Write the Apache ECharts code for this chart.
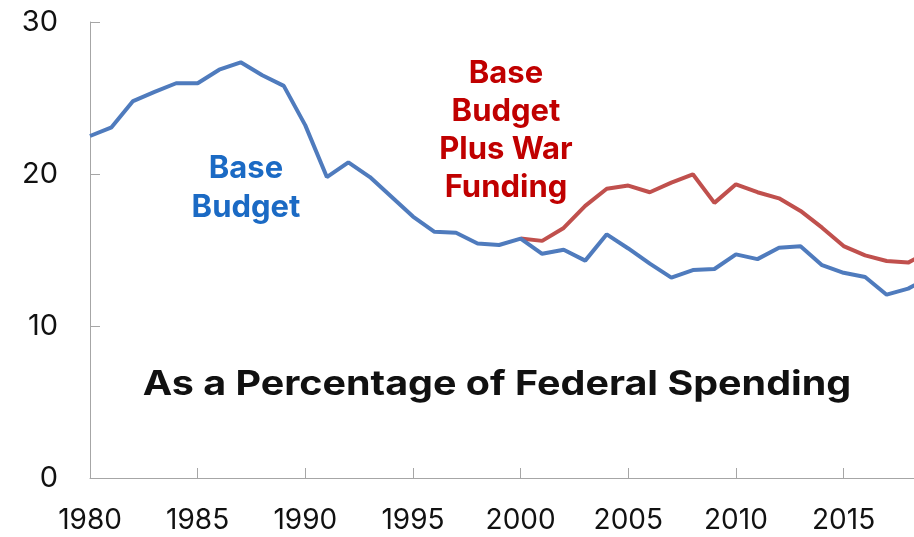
<!DOCTYPE html>
<html>
<head>
<meta charset="utf-8">
<script src="https://cdn.jsdelivr.net/npm/echarts@6/dist/echarts.min.js"></script>
<style>html,body{margin:0;padding:0;background:#fff;}#c{width:914px;height:537px;}</style>
</head>
<body>
<div id="c"></div>
<script>
var years = [1980,1981,1982,1983,1984,1985,1986,1987,1988,1989,1990,1991,1992,1993,1994,1995,1996,1997,1998,1999,2000,2001,2002,2003,2004,2005,2006,2007,2008,2009,2010,2011,2012,2013,2014,2015,2016,2017,2018,2019];
var baseBudget = [22.5,23.07,24.8,25.4,25.97,25.97,26.86,27.35,26.5,25.8,23.2,19.8,20.77,19.8,18.5,17.2,16.2,16.14,15.43,15.33,15.75,14.75,15.02,14.3,16.03,15.1,14.1,13.18,13.68,13.75,14.71,14.4,15.15,15.24,14.0,13.5,13.22,12.06,12.46,13.2];
var warFunding = [null,null,null,null,null,null,null,null,null,null,null,null,null,null,null,null,null,null,null,null,15.75,15.6,16.45,17.9,19.03,19.24,18.8,19.43,19.98,18.1,19.32,18.8,18.4,17.57,16.47,15.26,14.65,14.28,14.17,14.9];
var yTicks = [0,10,20,30];

function pairs(vals){ var out=[]; for(var i=0;i<years.length;i++){ if(vals[i]!==null) out.push([years[i], vals[i]]); } return out; }

var chart = echarts.init(document.getElementById('c'));
var FONT = 'Inter';
chart.setOption({
  animation:false,
  grid:{left:90,right:0,top:22,bottom:59},
  xAxis:{type:'value',min:1980,max:2018.27,interval:5,
    axisLine:{lineStyle:{color:'#a6a6a6',width:1}},
    axisTick:{inside:true,length:10,lineStyle:{color:'#a6a6a6'}},
    splitLine:{show:false},
    axisLabel:{margin:29,color:'#111',fontSize:28,fontFamily:FONT,showMaxLabel:false,
      formatter:function(v){return (v%5===0)?String(v):'';}}
  },
  yAxis:{type:'value',min:yTicks[0],max:yTicks[yTicks.length-1],interval:10,
    axisLine:{show:true,lineStyle:{color:'#a6a6a6',width:1}},
    axisTick:{show:true,inside:true,length:10,lineStyle:{color:'#a6a6a6'}},
    splitLine:{show:false},
    axisLabel:{margin:32,color:'#111',fontSize:29,fontFamily:FONT}
  },
  series:[
    {type:'line',data:pairs(warFunding),symbol:'none',lineStyle:{color:'#c0504d',width:4},z:2},
    {type:'line',data:pairs(baseBudget),symbol:'none',lineStyle:{color:'#4f7bbd',width:4},z:3}
  ],
  graphic:[
    {type:'text',x:246,y:188,style:{text:'Base\nBudget',fill:'#1b6ac4',font:'bold 31px '+FONT,textAlign:'center',textVerticalAlign:'middle',lineHeight:39}},
    {type:'text',x:506,y:131,style:{text:'Base\nBudget\nPlus War\nFunding',fill:'#c00000',font:'bold 31px '+FONT,textAlign:'center',textVerticalAlign:'middle',lineHeight:38}},
    {type:'text',x:497,y:385,scaleX:1.16,style:{text:'As a Percentage of Federal Spending',fill:'#111',font:'bold 34px '+FONT,textAlign:'center',textVerticalAlign:'middle'}}
  ]
});
</script>
</body>
</html>
